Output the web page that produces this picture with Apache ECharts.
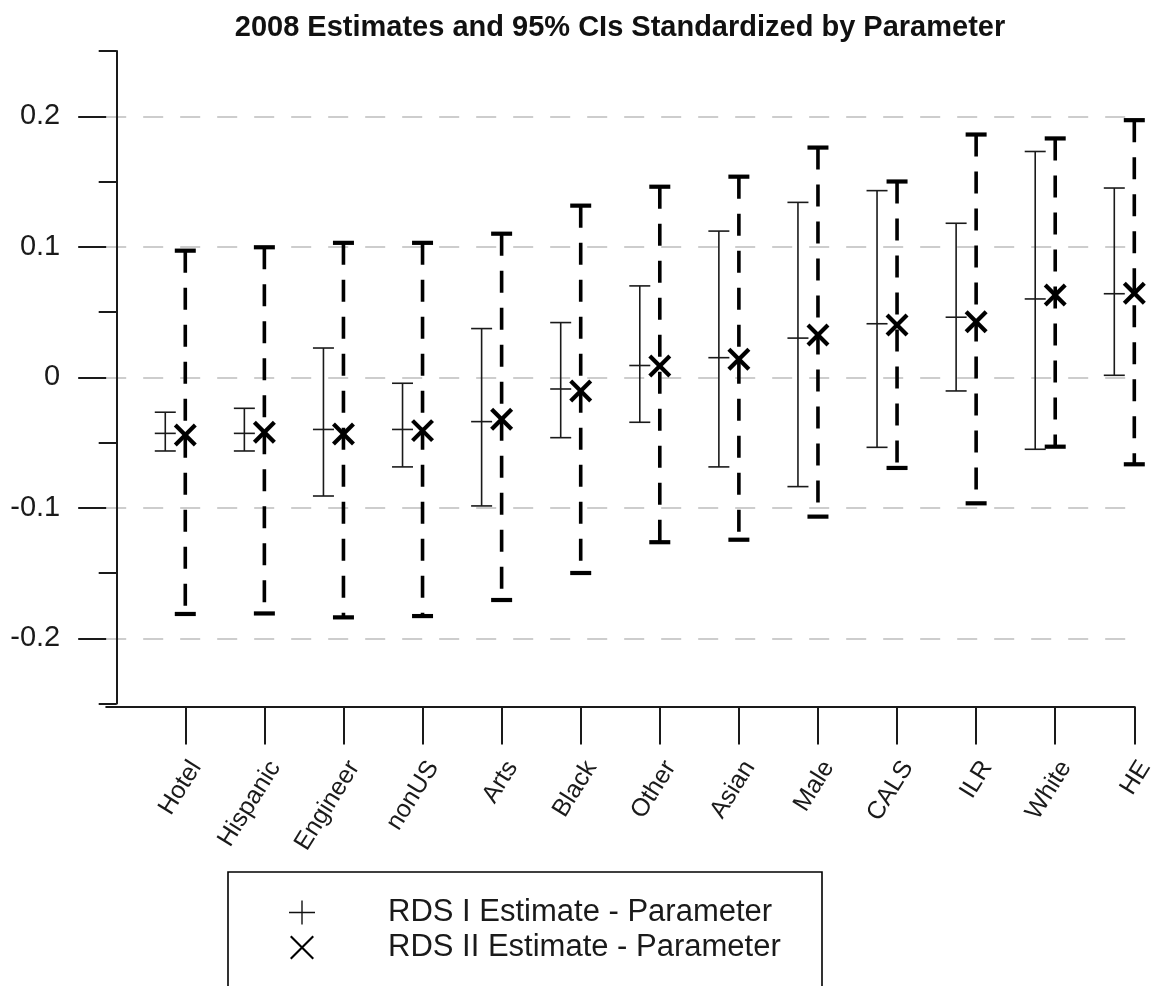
<!DOCTYPE html>
<html>
<head>
<meta charset="utf-8">
<title>2008 Estimates and 95% CIs Standardized by Parameter</title>
<script src="https://cdn.jsdelivr.net/npm/echarts@6/dist/echarts.min.js"></script>
<style>
  html, body { margin: 0; padding: 0; background: #ffffff; }
  #chart { width: 1159px; height: 986px; }
</style>
</head>
<body>
<div id="chart"></div>
<script>
// Groups, ordered by their RDS II estimate
const categories = ['Hotel', 'Hispanic', 'Engineer', 'nonUS', 'Arts', 'Black', 'Other',
                    'Asian', 'Male', 'CALS', 'ILR', 'White', 'HE'];

// RDS I estimate minus parameter, with 95% CI bounds
const rds1Estimate = [-0.043, -0.043, -0.040, -0.040, -0.034, -0.009, 0.009, 0.015, 0.030, 0.041, 0.046, 0.060, 0.064];
const rds1Lower    = [-0.0565, -0.0565, -0.091, -0.0687, -0.0986, -0.0463, -0.0345, -0.0687, -0.0838, -0.0537, -0.0105, -0.0552, 0.0015];
const rds1Upper    = [-0.0268, -0.0238, 0.0224, -0.0046, 0.0373, 0.0419, 0.070, 0.112, 0.134, 0.143, 0.118, 0.173, 0.145];

// RDS II estimate minus parameter, with 95% CI bounds
const rds2Estimate = [-0.0442, -0.0421, -0.0435, -0.0409, -0.0322, -0.0105, 0.0087, 0.0138, 0.0324, 0.040, 0.0426, 0.063, 0.0644];
const rds2Lower    = [-0.1814, -0.181, -0.184, -0.183, -0.1707, -0.150, -0.1264, -0.1245, -0.1068, -0.0695, -0.0966, -0.0532, -0.0667];
const rds2Upper    = [0.097, 0.0996, 0.103, 0.103, 0.110, 0.1315, 0.146, 0.1537, 0.176, 0.150, 0.186, 0.183, 0.197];

// Axis ticks
const yMajorTicks = [-0.2, -0.1, 0, 0.1, 0.2];
const yMinorTicks = [-0.25, -0.15, -0.05, 0.05, 0.15, 0.25];
const xTicks = categories.map((c, i) => i + 1);

const FONT = '"Liberation Sans", Arial, sans-serif';
const INK = '#1a1a1a';
const RDS1_SHIFT = 0.253;   // RDS I bar sits a quarter slot left of its tick

function rows(est, lo, hi, shift) {
  return categories.map((c, i) => [i + 1 - shift, est[i], lo[i], hi[i], c]);
}

function line(x1, y1, x2, y2, style) {
  return { type: 'line', shape: { x1, y1, x2, y2 }, style };
}

// Thin solid interval with end caps and a crossbar at the estimate
function renderRds1(params, api) {
  const x = api.value(0);
  const mid = api.coord([x, api.value(1)]);
  const bot = api.coord([x, api.value(2)]);
  const top = api.coord([x, api.value(3)]);
  const hw = 10.5;
  const st = { stroke: INK, lineWidth: 1.6, fill: null };
  return {
    type: 'group',
    children: [
      line(top[0], top[1], bot[0], bot[1], st),
      line(top[0] - hw, top[1], top[0] + hw, top[1], st),
      line(bot[0] - hw, bot[1], bot[0] + hw, bot[1], st),
      line(mid[0] - hw, mid[1], mid[0] + hw, mid[1], st)
    ]
  };
}

// Heavy dashed interval with thick caps and an X at the estimate
function renderRds2(params, api) {
  const x = api.value(0);
  const mid = api.coord([x, api.value(1)]);
  const bot = api.coord([x, api.value(2)]);
  const top = api.coord([x, api.value(3)]);
  const hw = 10.5;
  const xs = 10;
  const dash = { stroke: '#000', lineWidth: 3.6, lineDash: [22, 15], fill: null };
  const solid = { stroke: '#000', lineWidth: 4.2, fill: null };
  return {
    type: 'group',
    children: [
      line(top[0], top[1], bot[0], bot[1], dash),
      line(top[0] - hw, top[1], top[0] + hw, top[1], solid),
      line(bot[0] - hw, bot[1], bot[0] + hw, bot[1], solid),
      line(mid[0] - xs, mid[1] - xs, mid[0] + xs, mid[1] + xs, solid),
      line(mid[0] - xs, mid[1] + xs, mid[0] + xs, mid[1] - xs, solid)
    ]
  };
}

const plusIcon = 'path://M0,11.3H26V12.7H0Z M12.3,0H13.7V24H12.3Z';
const crossIcon = 'path://M0,1.5L1.5,0L24,22.5L22.5,24Z M22.5,0L24,1.5L1.5,24L0,22.5Z';

const chart = echarts.init(document.getElementById('chart'), null, { renderer: 'canvas' });

chart.setOption({
  backgroundColor: '#ffffff',
  animation: false,
  title: {
    text: '2008 Estimates and 95% CIs Standardized by Parameter',
    left: 615,
    top: 8,
    textAlign: 'center',
    textStyle: { fontFamily: FONT, fontSize: 29, fontWeight: 'bold', color: '#111' }
  },
  grid: { left: 106.2, right: 24.7, top: 51, bottom: 282.5 },
  xAxis: {
    type: 'value',
    min: 0,
    max: 13,
    position: 'bottom',
    offset: 3,
    axisLine: { show: true, onZero: false, lineStyle: { color: INK, width: 2 } },
    axisTick: { show: true, length: 38, customValues: xTicks, lineStyle: { color: INK, width: 2 } },
    axisLabel: {
      customValues: xTicks,
      formatter: v => categories[Math.round(v) - 1] || '',
      rotate: 58,
      margin: 50,
      verticalAlign: 'top',
      fontFamily: FONT,
      fontSize: 25,
      color: INK
    },
    splitLine: { show: false }
  },
  yAxis: [
    {
      // axis line with the half-step ticks
      type: 'value',
      min: -0.25,
      max: 0.25,
      position: 'left',
      offset: -10.5,
      axisLine: { show: true, onZero: false, lineStyle: { color: INK, width: 2 } },
      axisTick: { show: true, length: 18, customValues: yMinorTicks, lineStyle: { color: INK, width: 2 } },
      axisLabel: { show: false },
      splitLine: { show: false }
    },
    {
      // labelled ticks and dashed reference lines
      type: 'value',
      min: -0.25,
      max: 0.25,
      position: 'left',
      offset: 0,
      axisLine: { show: false, onZero: false },
      axisTick: { show: true, length: 28, customValues: yMajorTicks, lineStyle: { color: INK, width: 2 } },
      axisLabel: {
        customValues: yMajorTicks,
        margin: 46,
        fontFamily: FONT,
        fontSize: 29,
        color: INK
      },
      splitLine: { show: true, lineStyle: { color: '#cdcdcd', width: 2, type: [20, 17] } }
    }
  ],
  legend: {
    orient: 'vertical',
    left: 284,
    top: 890,
    itemWidth: 26,
    itemHeight: 24,
    itemGap: 0,
    selectedMode: false,
    textStyle: { fontFamily: FONT, fontSize: 31, lineHeight: 35, color: INK, padding: [0, 0, 0, 68] },
    data: [
      { name: 'RDS I Estimate - Parameter', icon: plusIcon, itemStyle: { color: '#111' } },
      { name: 'RDS II Estimate - Parameter', icon: crossIcon, itemStyle: { color: '#000' } }
    ]
  },
  graphic: [
    {
      type: 'rect',
      shape: { x: 228, y: 872, width: 594, height: 200 },
      style: { fill: 'none', stroke: '#000', lineWidth: 1.6 },
      silent: true,
      z: 10
    }
  ],
  series: [
    {
      name: 'RDS I Estimate - Parameter',
      type: 'custom',
      xAxisIndex: 0,
      yAxisIndex: 0,
      itemStyle: { color: '#111' },
      encode: { x: 0, y: [1, 2, 3] },
      data: rows(rds1Estimate, rds1Lower, rds1Upper, RDS1_SHIFT),
      renderItem: renderRds1,
      clip: false,
      silent: true,
      z: 3
    },
    {
      name: 'RDS II Estimate - Parameter',
      type: 'custom',
      xAxisIndex: 0,
      yAxisIndex: 0,
      itemStyle: { color: '#000' },
      encode: { x: 0, y: [1, 2, 3] },
      data: rows(rds2Estimate, rds2Lower, rds2Upper, 0),
      renderItem: renderRds2,
      clip: false,
      silent: true,
      z: 4
    }
  ]
});
</script>
</body>
</html>
